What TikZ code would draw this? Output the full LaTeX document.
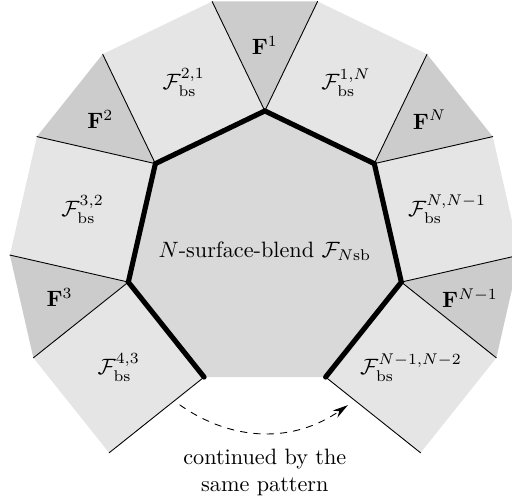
\documentclass[tikz,border=0pt]{standalone}
\usepackage{amsmath}
\usetikzlibrary{arrows.meta}
\begin{document}
\begin{tikzpicture}[
      >={Stealth[length=7pt,width=3.8pt]},
      line cap=round,
      blockfill/.style={fill=black!10},
      wedgefill/.style={fill=black!20},
      corefill/.style={fill=black!15},
    ]
    \useasboundingbox (-4.19,-4.00) rectangle (3.91,3.97);
    
    % 七边形顶点：1、2、3、4 左侧，N、Na=N-1、Nb=N-2 右侧
    \coordinate (V1)  at (0,2.215);
    \coordinate (V2)  at (-1.7318,1.3810);
    \coordinate (V3)  at (-2.1595,-0.4929);
    \coordinate (V4)  at (-0.9610,-1.9956);
    \coordinate (VNb) at (0.9610,-1.9956);
    \coordinate (VNa) at (2.1595,-0.4929);
    \coordinate (VN)  at (1.7318,1.3810);
    
    % 正方形块的外侧角点
    \coordinate (A1)  at (-0.8340,3.9468);
    \coordinate (A2)  at (-2.5658,3.1128);
    \coordinate (B2)  at (-3.6057,1.8087);
    \coordinate (B3)  at (-4.0334,-0.0652);
    \coordinate (C3)  at (-3.6623,-1.6913);
    \coordinate (C4)  at (-2.4638,-3.1940);
    \coordinate (DNb) at (2.4638,-3.1940);
    \coordinate (DNa) at (3.6623,-1.6913);
    \coordinate (ENa) at (4.0334,-0.0652);
    \coordinate (EN)  at (3.6057,1.8087);
    \coordinate (GN)  at (2.5658,3.1128);
    \coordinate (G1)  at (0.8340,3.9468);
    
    % 中间的七边形
    \fill[corefill] (V1) -- (V2) -- (V3) -- (V4) -- (VNb) -- (VNa) -- (VN) -- cycle;
    
    % 边上的正方形块
    \fill[blockfill] (V1) -- (V2) -- (A2) -- (A1) -- cycle;
    \fill[blockfill] (V2) -- (V3) -- (B3) -- (B2) -- cycle;
    \fill[blockfill] (V3) -- (V4) -- (C4) -- (C3) -- cycle;
    \fill[blockfill] (VNb) -- (VNa) -- (DNa) -- (DNb) -- cycle;
    \fill[blockfill] (VNa) -- (VN) -- (EN) -- (ENa) -- cycle;
    \fill[blockfill] (VN) -- (V1) -- (G1) -- (GN) -- cycle;
    
    % 顶点处的三角形
    \fill[wedgefill] (V1) -- (A1) -- (G1) -- cycle;
    \fill[wedgefill] (V2) -- (A2) -- (B2) -- cycle;
    \fill[wedgefill] (V3) -- (B3) -- (C3) -- cycle;
    \fill[wedgefill] (VNa) -- (DNa) -- (ENa) -- cycle;
    \fill[wedgefill] (VN) -- (EN) -- (GN) -- cycle;
    
    % 块之间的细分界线
    \draw (V1) -- (A1);
    \draw (V1) -- (G1);
    \draw (V2) -- (A2);
    \draw (V2) -- (B2);
    \draw (V3) -- (B3);
    \draw (V3) -- (C3);
    \draw (V4) -- (C4);
    \draw (VNb) -- (DNb);
    \draw (VNa) -- (DNa);
    \draw (VNa) -- (ENa);
    \draw (VN) -- (EN);
    \draw (VN) -- (GN);
    
    % 七边形的粗边（底边除外）
    \draw[line width=2.3pt]
      (V4) -- (V3) -- (V2) -- (V1) -- (VN) -- (VNa) -- (VNb);
    
    % 标注
    \node (core) at (0,0) {$N$-surface-blend $\mathcal{F}_{N\mathrm{sb}}$};
    \node (b21)  at (115.714:2.957) {$\mathcal{F}^{2,1}_{\mathrm{bs}}$};
    \node (b32)  at (167.143:2.957) {$\mathcal{F}^{3,2}_{\mathrm{bs}}$};
    \node (b43)  at (218.571:2.957) {$\mathcal{F}^{4,3}_{\mathrm{bs}}$};
    \node (bNb)  at (321.429:2.957) {$\mathcal{F}^{N-1,N-2}_{\mathrm{bs}}$};
    \node (bNa)  at (12.857:2.957)  {$\mathcal{F}^{N,N-1}_{\mathrm{bs}}$};
    \node (b1N)  at (64.286:2.957)  {$\mathcal{F}^{1,N}_{\mathrm{bs}}$};
    \node (f1)   at (90:3.25)       {$\mathbf{F}^1$};
    \node (f2)   at (141.43:3.33)   {$\mathbf{F}^2$};
    \node (f3)   at (192.86:3.33)   {$\mathbf{F}^3$};
    \node (fNa)  at (347.14:3.33)   {$\mathbf{F}^{N-1}$};
    \node (fN)   at (38.57:3.33)    {$\mathbf{F}^N$};
    
    % 底部的虚线箭头及说明
    \coordinate (Ls) at (-1.345,-2.436);
    \coordinate (Le) at (1.313,-2.44);
    \draw[dashed,->] (Ls) to[bend right=35] (Le);
    \node[align=center] (more) at (0,-3.50) {continued by the\\same pattern};
    
\end{tikzpicture}
\end{document}
